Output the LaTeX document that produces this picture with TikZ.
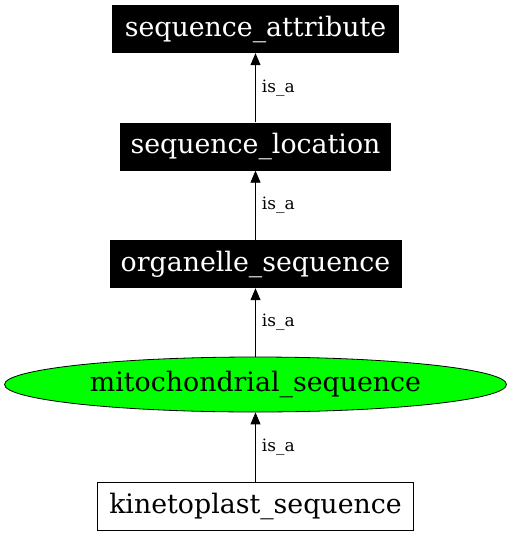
\documentclass[tikz,border=0pt]{standalone}
\usepackage{fontspec}
\setmainfont{DejaVu Serif}
\usetikzlibrary{arrows.meta,shapes.geometric}
\begin{document}
\begin{tikzpicture}[x=1pt,y=-1pt,
  nodefont/.style={font=\fontsize{26.8}{30}\selectfont},
  blackbox/.style={nodefont,fill=black,text=white,minimum height=48pt,inner sep=0pt},
  whitebox/.style={nodefont,draw=black,fill=white,line width=0.8pt,minimum height=48pt,inner sep=0pt},
  greenell/.style={nodefont,ellipse,draw=black,fill=green,line width=0.8pt,minimum width=502pt,minimum height=55pt,inner sep=0pt},
  isa/.style={draw=black,line width=0.9pt,-{Triangle[length=12pt,width=10pt]}},
  lbl/.style={font=\fontsize{17}{20}\selectfont,right,inner sep=0pt,xshift=6pt}]
\useasboundingbox (0,0) rectangle (512,536);
\node[blackbox,minimum width=287pt] (attr) at (255.5,29) {sequence\_attribute};
\node[blackbox,minimum width=271pt] (loc) at (255.5,146.5) {sequence\_location};
\node[blackbox,minimum width=292pt] (org) at (255.5,264) {organelle\_sequence};
\node[greenell] (mito) at (255.5,384.5) {mitochondrial\_sequence};
\node[whitebox,minimum width=316pt] (kin) at (255.5,506) {kinetoplast\_sequence};
\draw[isa] (loc) -- (attr) node[midway,lbl] {is\_a};
\draw[isa] (org) -- (loc) node[midway,lbl] {is\_a};
\draw[isa] (mito) -- (org) node[midway,lbl] {is\_a};
\draw[isa] (kin) -- (mito) node[midway,lbl] {is\_a};
\end{tikzpicture}
\end{document}
